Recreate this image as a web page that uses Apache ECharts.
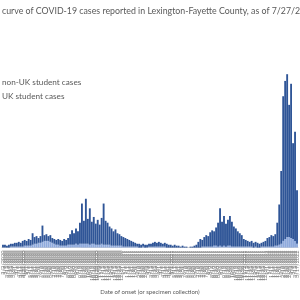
<!DOCTYPE html>
<html>
<head>
<meta charset="utf-8">
<script src="https://cdn.jsdelivr.net/npm/echarts@6/dist/echarts.min.js"></script>
<style>
  html, body { margin: 0; padding: 0; background: #fff; }
  #chart { width: 300px; height: 300px; }
</style>
</head>
<body>
<div id="chart"></div>
<script>
// daily-ish case counts (2 px per bar)
var totalCases = [
  3, 3, 2, 3, 4, 4, 5, 5, 6, 5,
  7, 8, 7, 9, 8, 15, 11, 12, 10, 12,
  23, 13, 14, 12, 13, 10, 9, 8, 9, 8,
  7, 9, 8, 10, 14, 18, 15, 20, 17, 26,
  46, 28, 51, 30, 41, 27, 32, 25, 29, 24,
  31, 46, 28, 26, 22, 20, 17, 19, 15, 14,
  12, 11, 10, 9, 8, 7, 6, 5, 4, 4,
  3, 4, 3, 3, 4, 4, 5, 6, 5, 6,
  5, 4, 5, 4, 3, 3, 2, 3, 2, 2,
  1, 2, 1, 1, 0, 1, 1, 2, 3, 6,
  9, 8, 11, 13, 12, 16, 18, 17, 21, 26,
  41, 27, 33, 25, 29, 33, 27, 22, 20, 17,
  15, 13, 9, 8, 7, 6, 7, 5, 6, 5,
  4, 5, 6, 7, 10, 11, 13, 12, 14, 26,
  45, 80, 158, 174, 181, 149, 171, 109, 121, 60
];
var ukCases = [
  0, 0, 0, 0, 1, 1, 1, 1, 1, 1,
  1, 2, 2, 2, 2, 3, 4, 4, 5, 5,
  6, 7, 7, 7, 6, 5, 4, 3, 3, 2,
  2, 2, 2, 3, 3, 3, 3, 4, 3, 4,
  4, 4, 4, 4, 3, 4, 4, 3, 3, 3,
  4, 3, 3, 3, 3, 2, 2, 2, 2, 2,
  2, 1, 1, 1, 1, 1, 1, 1, 1, 0,
  0, 1, 0, 0, 1, 1, 1, 1, 1, 1,
  1, 1, 1, 0, 0, 0, 0, 0, 0, 0,
  0, 0, 0, 0, 0, 0, 0, 0, 0, 0,
  0, 1, 1, 1, 1, 1, 1, 2, 2, 1,
  2, 1, 2, 1, 2, 2, 1, 1, 1, 1,
  1, 1, 1, 1, 1, 1, 1, 0, 1, 0,
  0, 1, 1, 1, 1, 1, 1, 1, 2, 2,
  3, 4, 7, 9, 11, 11, 10, 9, 7, 4
];
var nonUkCases = totalCases.map(function (v, i) { return v - ukCases[i]; });

// date of onset labels, one every 5 days from 3/2/2020
var dates = [];
var d0 = new Date(2020, 2, 2);
for (var i = 0; i < totalCases.length; i++) {
  var d = new Date(d0.getTime() + i * 5 * 86400000);
  dates.push((d.getMonth() + 1) + "/" + d.getDate() + "/" + d.getFullYear());
}

var titleText = "Epidemic curve of COVID-19 cases reported in Lexington-Fayette County, as of 7/27/21";
var ctx = document.createElement("canvas").getContext("2d");
ctx.font = "8.8px Lato";
var hiddenW = ctx.measureText("Epidemic ").width;

var chart = echarts.init(document.getElementById("chart"));
chart.setOption({
  animation: false,
  backgroundColor: "#ffffff",
  title: {
    text: titleText,
    left: 2 - hiddenW,
    top: 7,
    padding: 0,
    textStyle: { fontFamily: "Lato", fontSize: 8.8, fontWeight: "normal", color: "#595959" }
  },
  legend: {
    orient: "vertical",
    left: -11,
    top: 78,
    padding: 0,
    itemWidth: 8,
    itemHeight: 8,
    itemGap: 6,
    icon: "rect",
    data: ["non-UK student cases", "UK student cases"],
    textStyle: { fontFamily: "Lato", fontSize: 8.2, color: "#595959" }
  },
  grid: { left: 0, right: 0, top: 56, bottom: 44 },
  xAxis: {
    type: "category",
    data: dates,
    name: "Date of onset (or specimen collection)",
    nameLocation: "middle",
    nameGap: 37,
    nameTextStyle: { fontFamily: "Lato", fontSize: 6, color: "#595959" },
    axisLine: { show: true, lineStyle: { color: "#d9d9d9", width: 1 } },
    axisTick: { show: false },
    axisLabel: {
      interval: 0,
      rotate: 90,
      margin: 3,
      fontFamily: "Lato",
      fontSize: 5.5,
      color: "#808080"
    }
  },
  yAxis: {
    type: "value",
    min: 0,
    max: 200,
    show: false,
    splitLine: { show: false }
  },
  series: [
    {
      name: "UK student cases",
      type: "bar",
      stack: "cases",
      barCategoryGap: "5%",
      itemStyle: { color: "#8faadc" },
      data: ukCases
    },
    {
      name: "non-UK student cases",
      type: "bar",
      stack: "cases",
      barCategoryGap: "5%",
      itemStyle: { color: "#2f5597" },
      data: nonUkCases
    }
  ]
});
</script>
</body>
</html>
